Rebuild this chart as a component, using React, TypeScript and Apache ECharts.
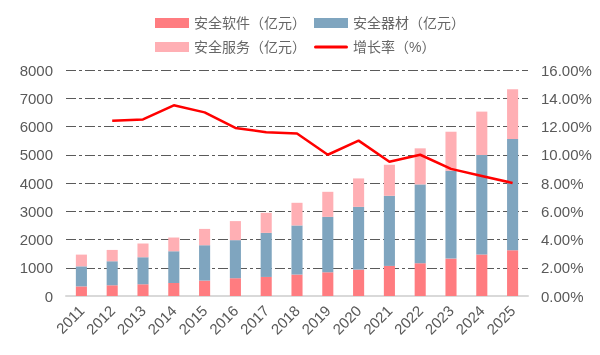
import React, { useEffect, useRef } from "react";
import * as echarts from "echarts";

const years = ["2011","2012","2013","2014","2015","2016","2017","2018","2019","2020","2021","2022","2023","2024","2025"];
const software = [340, 380, 415, 460, 545, 630, 675, 760, 840, 935, 1065, 1160, 1325, 1470, 1620];
const equipment = [710, 850, 957, 1124, 1252, 1347, 1560, 1737, 1961, 2220, 2482, 2790, 3107, 3521, 3936];
const services = [415, 401, 486, 486, 578, 674, 709, 802, 887, 1007, 1099, 1277, 1383, 1536, 1762];
const growth = [null, 12.4, 12.5, 13.5, 13.0, 11.9, 11.6, 11.5, 10.0, 11.0, 9.5, 10.0, 9.0, 8.5, 8.0];

const names = ["安全软件（亿元）", "安全器材（亿元）", "安全服务（亿元）", "增长率（%）"];
const font = "Liberation Sans, Arial, Noto Sans CJK SC, sans-serif";

export default function App() {
  const ref = useRef<HTMLDivElement>(null);
  useEffect(() => {
    const chart = echarts.init(ref.current!, null, { renderer: "svg" });
    const split = { show: true, lineStyle: { color: "#5a5a5a", width: 1, type: [10, 3, 3, 3] as any } };
    const legendBase = {
      left: 150,
      itemWidth: 34,
      itemHeight: 10,
      itemGap: 8,
      symbolKeepAspect: true,
      textStyle: { fontSize: 14, color: "#666666", fontFamily: font },
    };
    chart.setOption({
      animation: false,
      legend: [
        { ...legendBase, top: 11, data: [{ name: names[0], icon: "rect" }, { name: names[1], icon: "rect" }] },
        { ...legendBase, top: 35, data: [{ name: names[2], icon: "rect" }, { name: names[3], icon: "path://M1.5,0 L32.5,0 A1.5,1.5 0 0 1 32.5,3 L1.5,3 A1.5,1.5 0 0 1 1.5,0 Z" }] },
      ],
      grid: { left: 66, right: 72, top: 70, bottom: 59 },
      xAxis: {
        type: "category",
        data: years,
        axisTick: { show: false },
        axisLine: { show: true, lineStyle: { color: "#d9d9d9", width: 2 } },
        axisLabel: { rotate: 45, fontSize: 15, color: "#595959", fontFamily: font, margin: 12 },
      },
      yAxis: [
        {
          type: "value", min: 0, max: 8000, interval: 1000,
          axisLine: { show: false }, axisTick: { show: false },
          axisLabel: { fontSize: 15, color: "#595959", fontFamily: font, margin: 13, formatter: (v: number) => String(v) },
          splitLine: split,
        },
        {
          type: "value", min: 0, max: 16, interval: 2,
          axisLine: { show: false }, axisTick: { show: false },
          axisLabel: { fontSize: 15, color: "#595959", fontFamily: font, margin: 13, formatter: (v: number) => v.toFixed(2) + "%" },
          splitLine: { show: false },
        },
      ],
      series: [
        { name: names[0], type: "bar", stack: "t", data: software, barWidth: "36%", itemStyle: { color: "#FF7C80" } },
        { name: names[1], type: "bar", stack: "t", data: equipment, itemStyle: { color: "#7FA5BF" } },
        { name: names[2], type: "bar", stack: "t", data: services, itemStyle: { color: "#FFAFB4" } },
        {
          name: names[3], type: "line", yAxisIndex: 1, data: growth, symbol: "none", showSymbol: false,
          lineStyle: { color: "#FF0000", width: 2.5 }, itemStyle: { color: "#FF0000" }, z: 5,
        },
      ],
    });
    return () => chart.dispose();
  }, []);
  return <div ref={ref} style={{ position: "fixed", left: 0, top: 0, width: 600, height: 355 }} />;
}
